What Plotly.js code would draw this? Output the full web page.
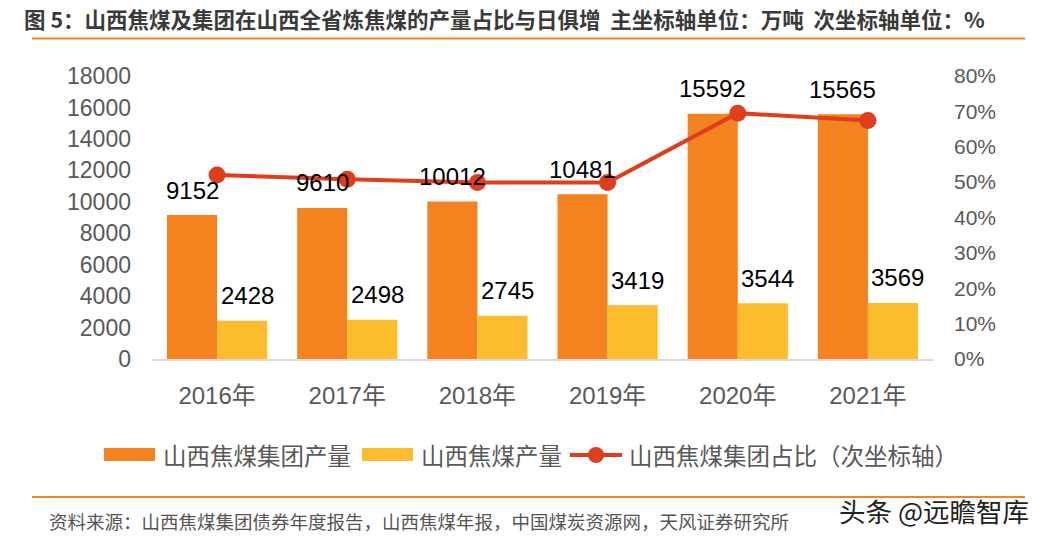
<!DOCTYPE html>
<html><head><meta charset="utf-8">
<script src="https://cdn.plot.ly/plotly-3.0.1.min.js"></script>
<style>html,body{margin:0;padding:0;background:#fff}#chart{width:1043px;height:538px}</style>
</head><body><div id="chart"></div>
<script>
const years = ['2016年','2017年','2018年','2019年','2020年','2021年'];
const groupOutput = [9152, 9610, 10012, 10481, 15592, 15565];
const companyOutput = [2428, 2498, 2745, 3419, 3544, 3569];
const groupShare = [0.52, 0.508, 0.499, 0.499, 0.695, 0.674];
const seriesNames = ['山西焦煤集团产量', '山西焦煤产量', '山西焦煤集团占比（次坐标轴）'];

const FONT = 'Liberation Sans, Arial, Noto Sans CJK SC, sans-serif';
const CJK = 'Noto Sans CJK SC, sans-serif';
const ORANGE = '#F4831F', YELLOW = '#FBBD2E', RED = '#DF3E1C';
const L = 152, R = 933, T = 76, B = 359;
const W = R - L, H = B - T;
const px = x => (x - L) / W;
const py = y => (B - y) / H;

const traces = [
  {type:'bar', name:seriesNames[0], x:years, y:groupOutput, marker:{color:ORANGE}, hoverinfo:'none'},
  {type:'bar', name:seriesNames[1], x:years, y:companyOutput, marker:{color:YELLOW}, hoverinfo:'none'},
  {type:'scatter', mode:'lines+markers', name:seriesNames[2], x:years, y:groupShare,
   yaxis:'y2', line:{color:RED, width:4}, marker:{color:RED, size:17}}
];

const annotations = [];
years.forEach((yr, i) => {
  annotations.push({x:yr, y:groupOutput[i], xref:'x', yref:'y', text:String(groupOutput[i]),
    showarrow:false, xshift:-25, yshift:25, yanchor:'middle', xanchor:'center',
    font:{family:FONT, size:24, color:'#000'}});
  annotations.push({x:yr, y:companyOutput[i], xref:'x', yref:'y', text:String(companyOutput[i]),
    showarrow:false, xshift:30, yshift:25, yanchor:'middle', xanchor:'center',
    font:{family:FONT, size:24, color:'#000'}});
});
annotations.push(
  {xref:'paper', yref:'paper', x:px(22), y:py(18), xanchor:'left', yanchor:'middle', showarrow:false,
   text:'<b>图 5：山西焦煤及集团在山西全省炼焦煤的产量占比与日俱增  主坐标轴单位：万吨  次坐标轴单位：%</b>',
   font:{family:CJK, size:21.5, color:'#3a3a3a'}},
  {xref:'paper', yref:'paper', x:px(47), y:py(521), xanchor:'left', yanchor:'middle', showarrow:false,
   text:'资料来源：山西焦煤集团债券年度报告，山西焦煤年报，中国煤炭资源网，天风证券研究所',
   font:{family:CJK, size:18.5, color:'#555'}},
  {xref:'paper', yref:'paper', x:px(1031), y:py(510), xanchor:'right', yanchor:'middle', showarrow:false,
   text:'头条 @远瞻智库',
   font:{family:CJK, size:26.5, color:'#222'}},
  // legend labels
  {xref:'paper', yref:'paper', x:px(161), y:py(455), xanchor:'left', yanchor:'middle', showarrow:false,
   text:seriesNames[0], font:{family:CJK, size:23.5, color:'#595959'}},
  {xref:'paper', yref:'paper', x:px(419), y:py(455), xanchor:'left', yanchor:'middle', showarrow:false,
   text:seriesNames[1], font:{family:CJK, size:23.5, color:'#595959'}},
  {xref:'paper', yref:'paper', x:px(627), y:py(455), xanchor:'left', yanchor:'middle', showarrow:false,
   text:seriesNames[2], font:{family:CJK, size:23.5, color:'#595959'}}
);

const layout = {
  width:1043, height:538,
  margin:{l:L, r:1043-R, t:T, b:538-B},
  paper_bgcolor:'#fff', plot_bgcolor:'#fff',
  font:{family:FONT, color:'#595959', size:20},
  barmode:'group', bargap:0.23, bargroupgap:0,
  showlegend:false,
  xaxis:{showline:true, linecolor:'#d9d9d9', linewidth:2, ticks:'', tickfont:{size:24, color:'#595959'},
         showgrid:false, zeroline:false, ticklabelstandoff:14},
  yaxis:{range:[0,18000], dtick:2000, tickformat:'d', showgrid:false, zeroline:false, showline:false,
         tickfont:{size:23, color:'#595959'}, ticklabelstandoff:20},
  yaxis2:{range:[0,0.8], dtick:0.1, tickformat:'.0%', overlaying:'y', side:'right',
          showgrid:false, zeroline:false, showline:false, tickfont:{size:21, color:'#595959'},
          ticklabelstandoff:20},
  shapes:[
    {type:'line', xref:'paper', yref:'paper', x0:px(32), x1:px(1025), y0:py(38.5), y1:py(38.5),
     line:{color:'#F08526', width:2}},
    {type:'line', xref:'paper', yref:'paper', x0:px(32), x1:px(1025), y0:py(497), y1:py(497),
     line:{color:'#F08526', width:2}},
    // legend symbols
    {type:'rect', xref:'paper', yref:'paper', x0:px(104), x1:px(155), y0:py(461), y1:py(448),
     fillcolor:ORANGE, line:{width:0}},
    {type:'rect', xref:'paper', yref:'paper', x0:px(362), x1:px(413), y0:py(461), y1:py(448),
     fillcolor:YELLOW, line:{width:0}},
    {type:'line', xref:'paper', yref:'paper', x0:px(570), x1:px(622), y0:py(455), y1:py(455),
     line:{color:RED, width:4}},
    {type:'circle', xref:'paper', yref:'paper', x0:px(588), x1:px(604), y0:py(463), y1:py(447),
     fillcolor:RED, line:{width:0}}
  ],
  annotations:annotations
};
Plotly.newPlot('chart', traces, layout, {displayModeBar:false, staticPlot:true});
</script>
</body></html>
